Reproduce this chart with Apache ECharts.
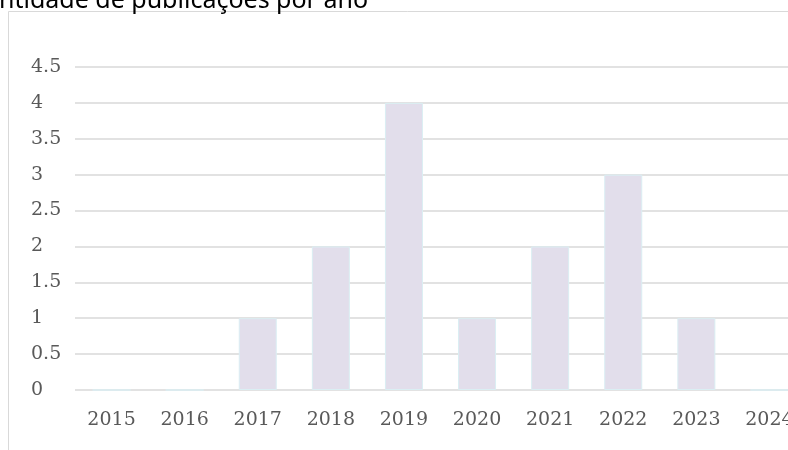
<!DOCTYPE html>
<html><head><meta charset="utf-8">
<script src="https://cdn.jsdelivr.net/npm/echarts@6/dist/echarts.min.js"></script>
<style>html,body{margin:0;padding:0;background:#fff;overflow:hidden}#c{width:806px;height:450px}</style>
</head><body><div id="c"></div>
<script>
const titleText = "Quantidade de publicações por ano";
const categories = ["2015","2016","2017","2018","2019","2020","2021","2022","2023","2024"];
const values = [0,0,1,2,4,1,2,3,1,0];
const yMin = 0, yMax = 4.5, yStep = 0.5;

const chart = echarts.init(document.getElementById('c'), null, {renderer:'canvas'});
chart.setOption({
  animation:false,
  backgroundColor:'#fff',
  graphic:[
    {type:'rect', shape:{x:8.5,y:11.5,width:900,height:600}, style:{fill:'none', stroke:'#D9D9D9', lineWidth:1}, z:-10},
    {type:'text', left:-50, top:-12, style:{text:titleText, font:'25px "Noto Sans"', fill:'#000'}}
  ],
  grid:{left:75, right:0, top:67, bottom:60, containLabel:false},
  xAxis:{
    type:'category', data:categories,
    axisLine:{show:false}, axisTick:{show:false},
    axisLabel:{color:'#595959', fontFamily:'DejaVu Serif', fontSize:19, margin:21, interval:0}
  },
  yAxis:{
    type:'value', min:yMin, max:yMax, interval:yStep,
    axisLine:{show:false}, axisTick:{show:false},
    axisLabel:{color:'#595959', fontFamily:'DejaVu Serif', fontSize:19, margin:44, align:'left',
      formatter:v=>String(v)},
    splitLine:{lineStyle:{color:'#D9D9D9', width:1.5}}
  },
  series:[{
    type:'bar', data:values, barWidth:38,
    itemStyle:{color:'#E2DEEB', borderColor:'#DAEEF3', borderWidth:1}
  }]
});
</script></body></html>
